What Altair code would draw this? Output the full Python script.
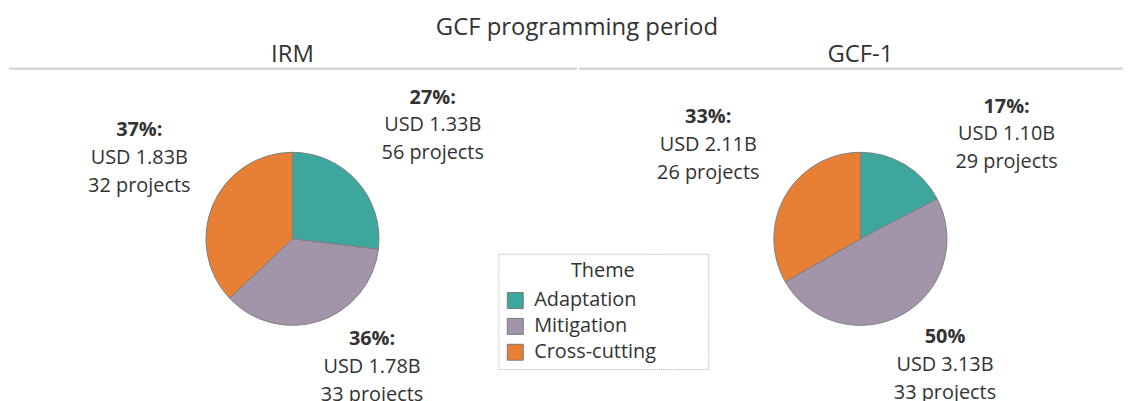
import math
import altair as alt
import pandas as pd

# ---------------- data ----------------
themes = ["Adaptation", "Mitigation", "Cross-cutting"]
periods = ["IRM", "GCF-1"]

irm_usd = [1.33, 1.78, 1.83]
irm_pct = ["27%:", "36%:", "37%:"]
irm_projects = [56, 33, 32]

gcf1_usd = [1.10, 3.13, 2.11]
gcf1_pct = ["17%:", "50%", "33%:"]
gcf1_projects = [29, 33, 26]

# ---------------- layout / style ----------------
colors = ["#3da69d", "#a294a9", "#e77f35"]
FONT = "Open Sans"
TEXT_COLOR = "#333333"
H = 342
PIE_R = 87

# label anchor (middle line) offset from pie centre, in px
LABEL_OFFSETS = {
    ("IRM", "Adaptation"): (141, -114),
    ("IRM", "Mitigation"): (80, 129),
    ("IRM", "Cross-cutting"): (-154, -81),
    ("GCF-1", "Adaptation"): (147, -105),
    ("GCF-1", "Mitigation"): (85, 127),
    ("GCF-1", "Cross-cutting"): (-153, -94),
}


def frame(period, usd, pct, projects):
    rows = []
    for i, th in enumerate(themes):
        dx, dy = LABEL_OFFSETS[(period, th)]
        rows.append(
            dict(
                period=period,
                theme=th,
                order=i,
                usd=usd[i],
                pct=pct[i],
                usd_text=f"USD {usd[i]:.2f}B",
                proj_text=f"{projects[i]} projects",
                lab_theta=math.atan2(dx, -dy),
                lab_r=math.hypot(dx, dy),
            )
        )
    return pd.DataFrame(rows)


PAD = "\u2800" * 3  # blank filler, widens legend box to the right

legend = alt.Legend(
    title="Theme",
    orient="none",
    legendX=492,
    legendY=186,
    titleAnchor="middle",
    titleFontSize=20,
    titleFontWeight="normal",
    titleColor=TEXT_COLOR,
    titlePadding=10,
    labelFontSize=20,
    labelColor=TEXT_COLOR,
    labelOffset=9,
    labelLimit=300,
    labelExpr=f"datum.label + '{PAD}'",
    symbolType="square",
    symbolSize=256,
    symbolStrokeColor="#777777",
    symbolStrokeWidth=1,
    rowPadding=6,
    padding=7,
    strokeColor="#b0b0b0",
    fillColor="white",
)


def panel(df, title, width, shift):
    base = alt.Chart(df)
    arcs = base.mark_arc(
        radius=PIE_R, stroke="#7f7f7f", strokeWidth=1, xOffset=shift
    ).encode(
        theta=alt.Theta("usd:Q", stack=True),
        color=alt.Color(
            "theme:N", scale=alt.Scale(domain=themes, range=colors), legend=legend
        ),
        order=alt.Order("order:Q"),
    )
    pos = dict(
        theta=alt.Theta("lab_theta:Q", scale=None),
        radius=alt.Radius("lab_r:Q", scale=None),
    )
    txt = dict(
        font=FONT, fontSize=20, color=TEXT_COLOR, align="center",
        baseline="middle", xOffset=shift,
    )
    t1 = base.mark_text(fontWeight="bold", dy=-28, **txt).encode(text="pct:N", **pos)
    t2 = base.mark_text(**txt).encode(text="usd_text:N", **pos)
    t3 = base.mark_text(dy=28, **txt).encode(text="proj_text:N", **pos)
    rule = base.mark_rule(color="#d9d9d9", strokeWidth=2).encode(
        x=alt.value(0), x2=alt.value(width + 1), y=alt.value(0)
    )
    return alt.layer(rule, arcs, t1, t2, t3).properties(
        width=width,
        height=H,
        title=alt.TitleParams(
            title, fontSize=24, fontWeight="normal", color=TEXT_COLOR,
            font=FONT, offset=1, dx=shift,
        ),
    )


p1 = panel(frame("IRM", irm_usd, irm_pct, irm_projects), "IRM", 570, 0)
p2 = panel(frame("GCF-1", gcf1_usd, gcf1_pct, gcf1_projects), "GCF-1", 546, 10)

chart = (
    alt.hconcat(p1, p2, spacing=0)
    .resolve_scale(theta="independent")
    .properties(
        padding={"top": 7, "left": 0, "right": 0, "bottom": 0},
        title=alt.TitleParams(
            "GCF programming period",
            anchor="middle",
            fontSize=24,
            fontWeight="normal",
            color=TEXT_COLOR,
            font=FONT,
            offset=3,
            dx=11,
        ),
    )
    .configure(font=FONT)
    .configure_view(strokeWidth=0)
    .configure_legend(strokeDash=[1, 1], strokeWidth=1)
)

chart.save("out.html", embed_options={"renderer": "svg", "actions": False})
